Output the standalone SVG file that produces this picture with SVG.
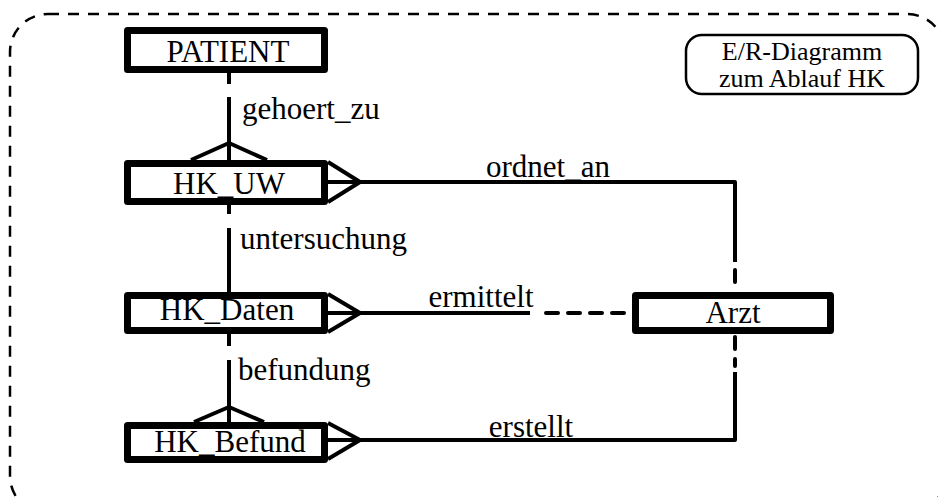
<svg xmlns="http://www.w3.org/2000/svg" width="938" height="497" viewBox="0 0 938 497">
<style>
.ent{fill:#fff;stroke:#000;stroke-width:7;stroke-linejoin:round}
.t{font-family:"Liberation Serif","Times New Roman",serif;font-size:31px;fill:#000}
.tt{font-family:"Liberation Serif","Times New Roman",serif;font-size:26px;fill:#000}
.c{text-anchor:middle}
.ln{fill:none;stroke:#000;stroke-width:4;stroke-linejoin:round}
.dl{fill:none;stroke:#000;stroke-width:4;stroke-dasharray:12 10;stroke-linecap:round}
.frame{fill:none;stroke:#000;stroke-width:2.5;stroke-dasharray:11 9}
</style>
<rect class="frame" x="10" y="14" width="935" height="500" rx="38"/>
<g id="title">
<rect x="686" y="35" width="232" height="59" rx="16" fill="#fff" stroke="#000" stroke-width="2.5"/>
<text class="tt c" x="802" y="60">E/R-Diagramm</text>
<text class="tt c" x="802" y="87">zum Ablauf HK</text>
</g>
<g id="connectors">
<path class="ln" d="M229 72V84M229 97V160"/>
<path class="ln" d="M191 160L229 143L267 160"/>
<path class="ln" d="M229 202V214M229 228V292"/>
<path class="ln" d="M229 333V346M229 360V422"/>
<path class="ln" d="M194 422L229 407L264 422"/>
<path class="ln" d="M328 162L360 182L328 202M328 182H735V262"/>
<path class="dl" d="M735 270V292"/>
<path class="ln" d="M328 294L360 313L328 332M328 313H530"/>
<path class="dl" d="M546 313H628"/>
<path class="dl" d="M735 337V366"/>
<path class="ln" d="M328 423L360 440L328 459M328 440H735V372"/>
<text class="t" x="242" y="119">gehoert_zu</text>
<text class="t" x="240" y="249">untersuchung</text>
<text class="t" x="238" y="380">befundung</text>
<text class="t c" x="548" y="177">ordnet_an</text>
<text class="t c" x="481" y="307">ermittelt</text>
<text class="t c" x="531" y="437">erstellt</text>
</g>
<g id="PATIENT">
<rect class="ent" x="127.5" y="30.5" width="197" height="39"/>
<text class="t c" x="228" y="62">PATIENT</text>
</g>
<g id="HK_UW">
<rect class="ent" x="127.5" y="163.5" width="197" height="38"/>
<text class="t c" x="229" y="194">HK_UW</text>
</g>
<g id="HK_Daten">
<rect class="ent" x="127.5" y="295.5" width="197" height="35"/>
<text class="t c" x="227" y="320">HK_Daten</text>
</g>
<g id="HK_Befund">
<rect class="ent" x="127.5" y="425.5" width="197" height="34"/>
<text class="t c" x="230" y="452">HK_Befund</text>
</g>
<g id="Arzt">
<rect class="ent" x="635.5" y="295.5" width="195" height="35"/>
<text class="t c" x="733" y="323">Arzt</text>
</g>
</svg>
